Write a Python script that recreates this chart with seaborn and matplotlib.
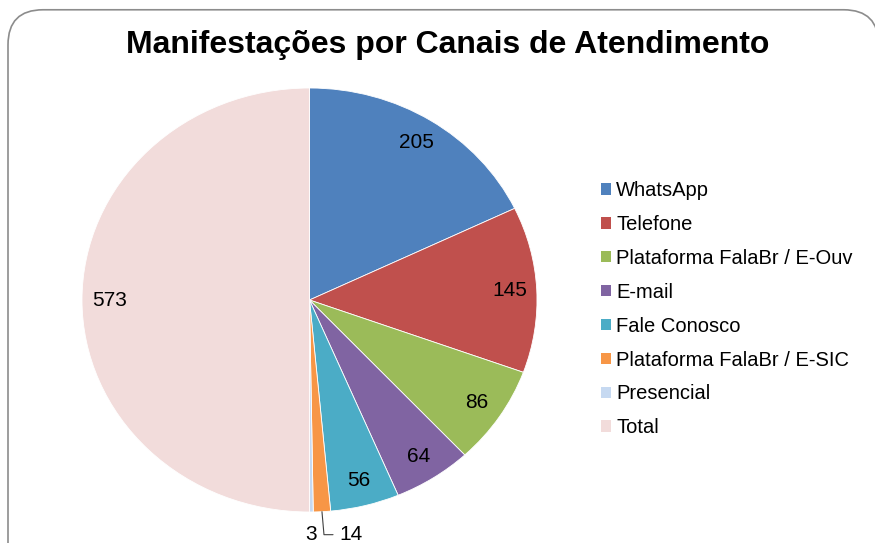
import numpy as np
import seaborn as sns
import matplotlib.pyplot as plt
from matplotlib.patches import FancyBboxPatch

# data
canais = ["WhatsApp", "Telefone", "Plataforma FalaBr / E-Ouv", "E-mail",
          "Fale Conosco", "Plataforma FalaBr / E-SIC", "Presencial", "Total"]
valores = [205, 145, 86, 64, 56, 14, 3, 573]
cores = ["#4F81BD", "#C0504D", "#9BBB59", "#8064A2",
         "#4BACC6", "#F79646", "#C6D9F1", "#F2DCDB"]
titulo = "Manifestações por Canais de Atendimento"

sns.set_theme(style="white")
plt.rcParams['font.family'] = ['Liberation Sans', 'DejaVu Sans']
plt.rcParams['text.color'] = 'black'

fig = plt.figure(figsize=(8.75, 5.43), dpi=100)

# rounded border of the chart area
borda = FancyBboxPatch((8 / 875, -0.1), 0.995, 1.082, boxstyle="round,pad=0,rounding_size=0.04",
                       transform=fig.transFigure, facecolor="white", edgecolor="#8c8c8c",
                       linewidth=1.2, mutation_aspect=875 / 543, zorder=-5)
fig.patches.append(borda)

fig.text(448 / 875, 1 - 45 / 543, titulo, ha="center", va="center",
         fontsize=23, fontweight="bold", color="black")

ax = fig.add_axes([82 / 875, 31 / 543, 455 / 875, 424 / 543])
ax.set_zorder(2)
ax.patch.set_visible(False)
wedges, _ = ax.pie(valores, colors=sns.color_palette(cores), startangle=90,
                   counterclock=False, radius=1.0,
                   wedgeprops=dict(edgecolor="white", linewidth=0.6))
ax.set_xlim(-1.0, 1.0)
ax.set_ylim(-1.0, 1.0)
ax.set_aspect("auto")
ax.axis("off")

# value labels at the inner end of each slice
total = sum(valores)
acum = 0
for i, v in enumerate(valores):
    meio = np.deg2rad((acum + v / 2) / total * 360)
    acum += v
    sx, sy = np.sin(meio), np.cos(meio)
    if v >= 50:
        ax.text(0.88 * sx, 0.88 * sy, str(v), ha="center", va="center", fontsize=15)
    elif v >= 10:
        ax.annotate(str(v), xy=(sx, sy), xytext=(0.13, -1.107),
                    ha="left", va="center", fontsize=15,
                    arrowprops=dict(arrowstyle="-", color="#404040", lw=0.8,
                                    shrinkA=2, shrinkB=0,
                                    connectionstyle="angle,angleA=0,angleB=95,rad=0"))
    else:
        ax.text(sx, -1.107, str(v), ha="center", va="center", fontsize=15)

leg = fig.legend(wedges, canais, loc="upper left", bbox_to_anchor=(591 / 875, 1 - 171 / 543),
                 frameon=False, fontsize=14.5, handlelength=0.5, handleheight=0.5,
                 handletextpad=0.25, labelspacing=0.74, borderpad=0)
for h in leg.legend_handles:
    h.set_edgecolor("none")

plt.savefig("out.png", dpi=100)
